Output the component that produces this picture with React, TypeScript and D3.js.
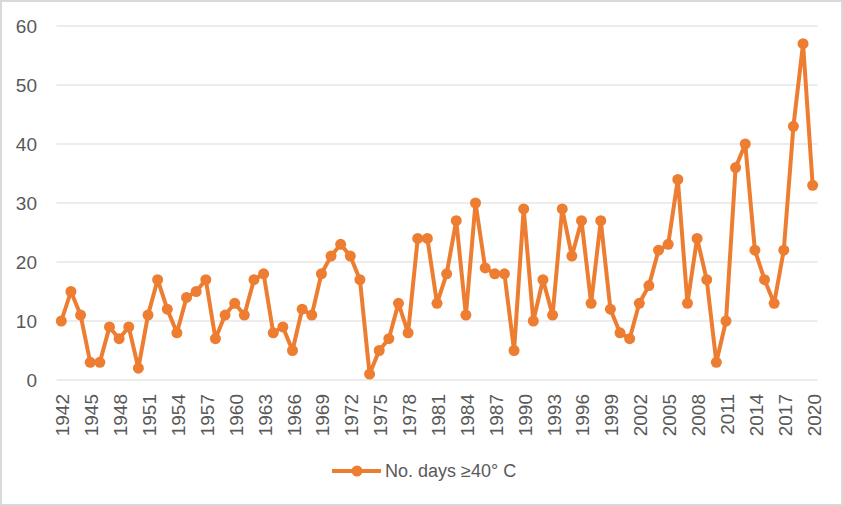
import React from "react";
import * as d3 from "d3";

const years: number[] = d3.range(1942, 2021);
const values: number[] = [
  10, 15, 11, 3, 3, 9, 7, 9, 2, 11,
  17, 12, 8, 14, 15, 17, 7, 11, 13, 11,
  17, 18, 8, 9, 5, 12, 11, 18, 21, 23,
  21, 17, 1, 5, 7, 13, 8, 24, 24, 13,
  18, 27, 11, 30, 19, 18, 18, 5, 29, 10,
  17, 11, 29, 21, 27, 13, 27, 12, 8, 7,
  13, 16, 22, 23, 34, 13, 24, 17, 3, 10,
  36, 40, 22, 17, 13, 22, 43, 57, 33,
];
const yTicks: number[] = [0, 10, 20, 30, 40, 50, 60];
const xTickYears: number[] = years.filter((y) => (y - 1942) % 3 === 0);
const seriesName = "No. days \u226540\u00b0 C";

const W = 843;
const H = 506;
const COLOR = "#ED7D31";
const TEXT = "#595959";
const FONT = "'Liberation Sans', Arial, sans-serif";

export default function App() {
  const x = d3.scaleBand<number>().domain(years).range([56.5, 817.5]).padding(0);
  const cx = (yr: number) => (x(yr) as number) + x.bandwidth() / 2;
  const y = d3.scaleLinear().domain([0, 60]).range([380, 26]);
  const line = d3
    .line<number>()
    .x((_, i) => cx(years[i]))
    .y((v) => y(v));

  return (
    <svg
      width={W}
      height={H}
      style={{ position: "absolute", left: 0, top: 0, background: "#fff" }}
      fontFamily={FONT}
    >
      <rect x={1} y={1} width={W - 2} height={H - 2} fill="#fff" stroke="#d9d9d9" strokeWidth={2} />
      {yTicks.map((t) => (
        <g key={t}>
          <line x1={56.5} x2={817.5} y1={y(t)} y2={y(t)} stroke="#d9d9d9" strokeWidth={1.2} />
          <text x={37} y={y(t)} textAnchor="end" dominantBaseline="central" fontSize={19} fill={TEXT}>
            {t}
          </text>
        </g>
      ))}
      {xTickYears.map((yr) => (
        <text
          key={yr}
          transform={`translate(${cx(yr) + 1.5},394) rotate(-90)`}
          textAnchor="end"
          dominantBaseline="central"
          fontSize={19}
          fill={TEXT}
        >
          {yr}
        </text>
      ))}
      <path d={line(values) || ""} fill="none" stroke={COLOR} strokeWidth={4} strokeLinejoin="round" />
      {values.map((v, i) => (
        <circle key={i} cx={cx(years[i])} cy={y(v)} r={5.5} fill={COLOR} />
      ))}
      <g>
        <line x1={332} x2={381} y1={471} y2={471} stroke={COLOR} strokeWidth={4} />
        <circle cx={357} cy={471} r={5.5} fill={COLOR} />
        <text x={385} y={471} dominantBaseline="central" fontSize={18} fill={TEXT}>
          {seriesName}
        </text>
      </g>
    </svg>
  );
}
